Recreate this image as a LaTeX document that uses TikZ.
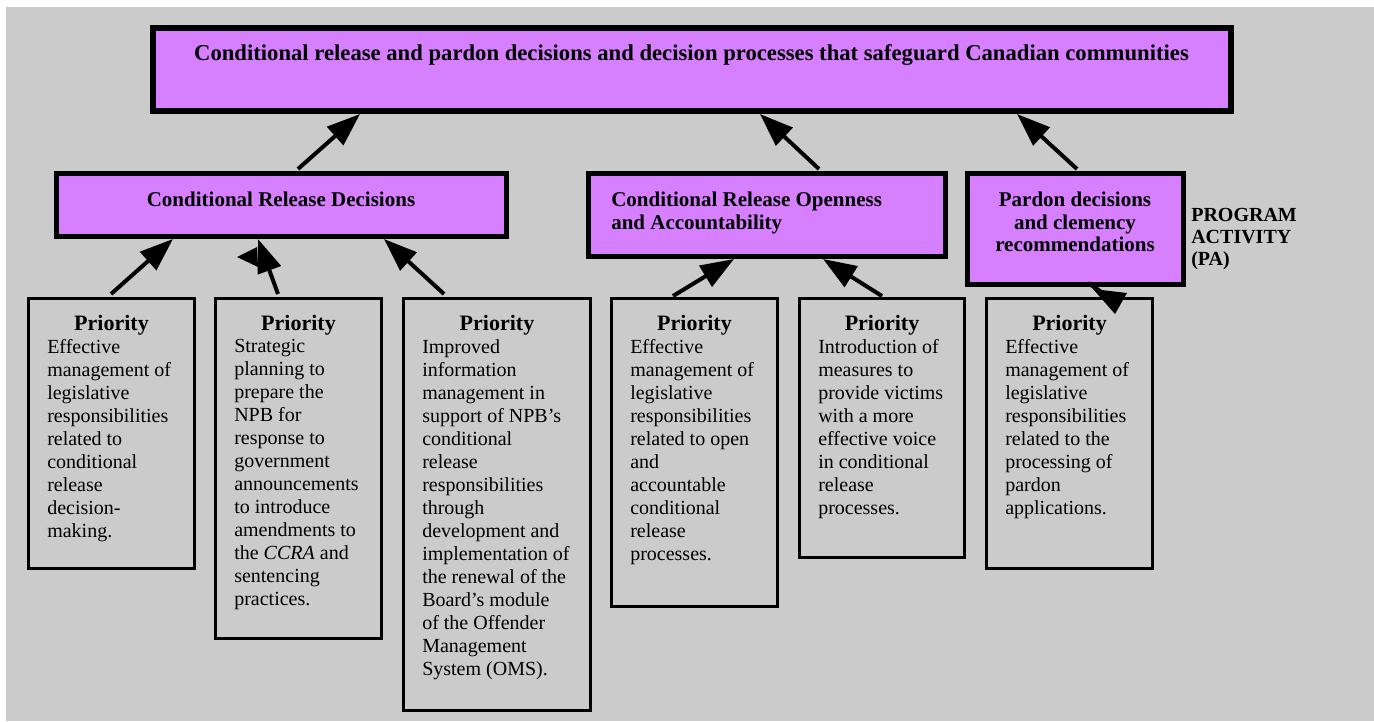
\documentclass[tikz,border=0pt]{standalone}
\usepackage{fontspec}
\setmainfont{Liberation Serif}
\usetikzlibrary{arrows.meta,fit}
\definecolor{bggray}{RGB}{203,203,203}
\definecolor{vio}{RGB}{214,128,255}
\begin{document}
\begin{tikzpicture}[x=0.75pt,y=-0.75pt,
  topbox/.style={draw=black, fill=vio, line width=4.5pt, inner sep=0pt},
  midbox/.style={draw=black, fill=vio, line width=4pt, inner sep=0pt},
  pribox/.style={draw=black, line width=2.4pt, inner sep=0pt},
  headtxt/.style={font=\fontsize{17}{18}\selectfont\bfseries, inner sep=0pt},
  htext/.style={font=\fontsize{15.75}{17}\selectfont\bfseries, inner sep=0pt},
  patext/.style={font=\fontsize{15}{16.6}\selectfont\bfseries, inner sep=0pt},
  ptitle/.style={font=\fontsize{16.5}{18}\selectfont\bfseries, inner sep=0pt, anchor=base},
  pbody/.style={font=\fontsize{15}{17.25}\selectfont, align=left, inner sep=0pt, anchor=north west},
  conn/.style={line width=3pt, -{Triangle[length=25pt, width=18pt]}},
  connline/.style={line width=3pt}
]
\useasboundingbox (0,0) rectangle (1374,721);
\fill[white] (0,0) rectangle (1374,721);
\fill[bggray] (6,7) rectangle (1374,721);

% top box
\node[topbox, fit={(153,28) (1231,111)}] (top) {};
\node[headtxt, anchor=base] (ttl) at (691.5,60) {Conditional release and pardon decisions and decision processes that safeguard Canadian communities};

% level 2
\node[midbox, fit={(56.75,173.75) (506.25,236.25)}] (crd) {};
\node[htext, anchor=base] (crdt) at (281,206) {Conditional Release Decisions};
\node[midbox, fit={(588.75,173.75) (945.25,256.25)}] (croa) {};
\node[htext, align=left, anchor=north west] (croat) at (611,191.5) {Conditional Release Openness\\and Accountability};
\node[midbox, fit={(967.75,173.75) (1183.25,284.25)}] (pard) {};
\node[htext, align=center, anchor=north] (pardt) at (1075,191.5) {Pardon decisions\\and clemency\\recommendations};
\node[patext, align=left, anchor=north west] (pa) at (1191,208) {PROGRAM\\ACTIVITY\\(PA)};

% priority boxes
\node[pribox, fit={(28.6,298.6) (194.4,568.4)}] (p1) {};
\node[ptitle] (p1t) at (111.5,330) {Priority};
\node[pbody] (p1b) at (47,339) {Effective\\management of\\legislative\\responsibilities\\related to\\conditional\\release\\decision-\\making.};

\node[pribox, fit={(215.6,298.6) (381.4,638.4)}] (p2) {};
\node[ptitle] (p2t) at (298.5,330) {Priority};
\node[pbody] (p2b) at (234,339) {Strategic\\planning to\\prepare the\\NPB for\\response to\\government\\announcements\\to introduce\\amendments to\\the \textit{CCRA} and\\sentencing\\practices.};

\node[pribox, fit={(403.6,298.6) (590.4,710.4)}] (p3) {};
\node[ptitle] (p3t) at (497,330) {Priority};
\node[pbody] (p3b) at (422,339) {Improved\\information\\management in\\support of NPB’s\\conditional\\release\\responsibilities\\through\\development and\\implementation of\\the renewal of the\\Board’s module\\of the Offender\\Management\\System (OMS).};

\node[pribox, fit={(611.6,298.6) (777.4,606.4)}] (p4) {};
\node[ptitle] (p4t) at (694.5,330) {Priority};
\node[pbody] (p4b) at (630,339) {Effective\\management of\\legislative\\responsibilities\\related to open\\and\\accountable\\conditional\\release\\processes.};

\node[pribox, fit={(799.6,298.6) (964.4,557.4)}] (p5) {};
\node[ptitle] (p5t) at (882,330) {Priority};
\node[pbody] (p5b) at (818,339) {Introduction of\\measures to\\provide victims\\with a more\\effective voice\\in conditional\\release\\processes.};

\node[pribox, fit={(986.6,298.6) (1152.4,568.4)}] (p6) {};
\node[ptitle] (p6t) at (1069.5,330) {Priority};
\node[pbody] (p6b) at (1005,339) {Effective\\management of\\legislative\\responsibilities\\related to the\\processing of\\pardon\\applications.};

% connector end points
\coordinate (crd-up) at (298,169);   \coordinate (top-in1) at (360,114);
\coordinate (croa-up) at (819,169);  \coordinate (top-in2) at (760,114);
\coordinate (pard-up) at (1077,169); \coordinate (top-in3) at (1017,114);
\coordinate (p1-up) at (111,294);    \coordinate (crd-in1) at (173,239);
\coordinate (p2-up) at (278,294);    \coordinate (crd-in2) at (258,239);
\coordinate (p3-up) at (444,294);    \coordinate (crd-in3) at (384,239);
\coordinate (p4-up) at (673,296);    \coordinate (croa-in1) at (734,259);
\coordinate (p5-up) at (882,296);    \coordinate (croa-in2) at (823,259);
\coordinate (pard-dn) at (1088,283); \coordinate (p6-in) at (1106,295);

\draw[conn] (crd-up) -- (top-in1);
\draw[conn] (croa-up) -- (top-in2);
\draw[conn] (pard-up) -- (top-in3);
\draw[conn] (p1-up) -- (crd-in1);
\draw[conn] (p2-up) -- (crd-in2);
\draw[conn] (p3-up) -- (crd-in3);
\draw[conn] (p4-up) -- (croa-in1);
\draw[conn] (p5-up) -- (croa-in2);
\fill (237,257) -- (257,247) -- (258,267) -- cycle;
\draw[connline] (pard-dn) -- (p6-in);
\fill (1093,289) -- (1127,293) -- (1115,314) -- cycle;
\end{tikzpicture}
\end{document}
